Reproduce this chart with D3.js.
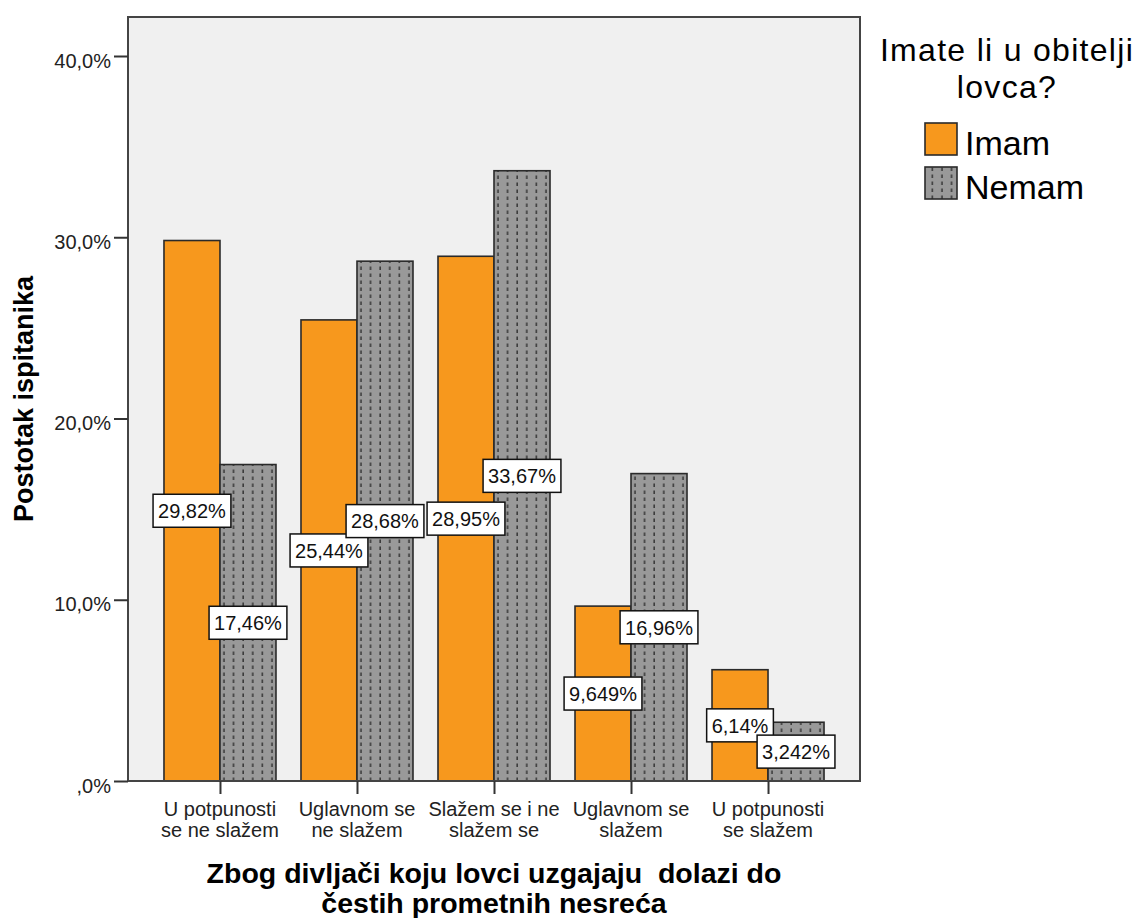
<!DOCTYPE html>
<html>
<head>
<meta charset="utf-8">
<script src="https://cdn.jsdelivr.net/npm/d3@7"></script>
<style>
  html, body { margin: 0; padding: 0; background: #ffffff; }
  svg { display: block; font-family: "Liberation Sans", Arial, sans-serif; }
</style>
</head>
<body>
<svg id="chart" width="1136" height="918"></svg>
<script>
// ---- data ----
const categories = [
  ["U potpunosti", "se ne slažem"],
  ["Uglavnom se", "ne slažem"],
  ["Slažem se i ne", "slažem se"],
  ["Uglavnom se", "slažem"],
  ["U potpunosti", "se slažem"]
];
const seriesNames = ["Imam", "Nemam"];
const imamValues  = [29.82, 25.44, 28.95, 9.649, 6.14];
const nemamValues = [17.46, 28.68, 33.67, 16.96, 3.242];
const yTickValues = [0, 10, 20, 30, 40];
const yTickLabels = [",0%", "10,0%", "20,0%", "30,0%", "40,0%"];
const yTitle = "Postotak ispitanika";
const xTitleLines = ["Zbog divljači koju lovci uzgajaju  dolazi do", "čestih prometnih nesreća"];
const legendTitleLines = ["Imate li u obitelji", "lovca?"];

// ---- layout ----
const svg = d3.select("#chart");
const plot = { left: 128, right: 860, top: 17, bottom: 781 };
const ORANGE = "#f7981d";
const GREY = "#999999";

const catIdx = categories.map((d, i) => i);
const x0 = d3.scaleBand().domain(catIdx).range([plot.left, plot.right])
  .paddingInner(0.1825).paddingOuter(0.2626);
const x1 = d3.scaleBand().domain(seriesNames).range([0, x0.bandwidth()]);
const y = d3.scaleLinear().domain([0, 40]).range([plot.bottom, 56]);

const rows = [];
catIdx.forEach(i => {
  rows.push({ cat: i, s: "Imam", v: imamValues[i] });
  rows.push({ cat: i, s: "Nemam", v: nemamValues[i] });
});

const defs = svg.append("defs");
function makePattern(id, xOff) {
  const p = defs.append("pattern").attr("id", id)
    .attr("patternUnits", "userSpaceOnUse")
    .attr("x", xOff).attr("y", 0)
    .attr("width", 9.6).attr("height", 7);
  p.append("rect").attr("width", 9.6).attr("height", 7).attr("fill", GREY);
  p.append("line").attr("x1", 4).attr("x2", 4).attr("y1", 0.5).attr("y2", 4)
    .attr("stroke", "#3c3c3c").attr("stroke-width", 1.6);
}

// plot background
svg.append("rect")
  .attr("x", plot.left).attr("y", plot.top)
  .attr("width", plot.right - plot.left).attr("height", plot.bottom - plot.top)
  .attr("fill", "#f0f0f0");

// bars
const fmt = d3.format(".4~r");
const barG = svg.append("g");
rows.forEach((r, k) => {
  const bx = x0(r.cat) + x1(r.s);
  let fill = ORANGE;
  if (r.s === "Nemam") {
    makePattern("pat" + k, bx);
    fill = "url(#pat" + k + ")";
  }
  r.bx = bx;
  r.fill = fill;
});
barG.selectAll("rect").data(rows).join("rect")
  .attr("x", d => d.bx)
  .attr("y", d => y(d.v))
  .attr("width", x1.bandwidth())
  .attr("height", d => y(0) - y(d.v))
  .attr("fill", d => d.fill)
  .attr("stroke", "#2a2a2a")
  .attr("stroke-width", 1.6);

// frame
svg.append("rect")
  .attr("x", plot.left).attr("y", plot.top)
  .attr("width", plot.right - plot.left).attr("height", plot.bottom - plot.top)
  .attr("fill", "none").attr("stroke", "#444").attr("stroke-width", 2);

// y axis
const yAxis = d3.axisLeft(y).tickValues(yTickValues)
  .tickFormat((d, i) => yTickLabels[i]).tickSize(14).tickPadding(3);
const yg = svg.append("g").attr("transform", `translate(${plot.left},0)`).call(yAxis);
yg.select(".domain").remove();
yg.selectAll(".tick line").attr("stroke", "#333").attr("stroke-width", 2);
yg.selectAll(".tick text").attr("font-size", 20).attr("fill", "#222")
  .attr("font-family", "'Liberation Sans', Arial, sans-serif").attr("dy", "0.55em");

// x axis
const xAxis = d3.axisBottom(d3.scalePoint().domain(catIdx)
  .range([x0(0) + x0.bandwidth() / 2, x0(4) + x0.bandwidth() / 2]))
  .tickSize(13).tickFormat("");
const xg = svg.append("g").attr("transform", `translate(0,${plot.bottom})`).call(xAxis);
xg.select(".domain").remove();
xg.selectAll(".tick line").attr("stroke", "#333").attr("stroke-width", 2);
const xLab = svg.append("g").selectAll("text").data(categories).join("text")
  .attr("x", (d, i) => x0(i) + x0.bandwidth() / 2)
  .attr("y", 816)
  .attr("text-anchor", "middle")
  .attr("font-size", 20)
  .attr("fill", "#222");
xLab.each(function(d) {
  const t = d3.select(this);
  d.forEach((line, j) => {
    t.append("tspan").attr("x", t.attr("x")).attr("y", 816 + j * 21).text(line);
  });
});

// value labels
const lblG = svg.append("g");
rows.forEach(r => {
  const cx = r.bx + x1.bandwidth() / 2;
  const cy = (y(r.v) + y(0)) / 2;
  const g = lblG.append("g").attr("transform", `translate(${cx},${cy})`);
  const txt = fmt(r.v).replace(".", ",") + "%";
  const t = g.append("text").attr("text-anchor", "middle").attr("dy", "0.36em")
    .attr("font-size", 20).attr("fill", "#111").text(txt);
  const w = t.node().getComputedTextLength() + 10;
  g.insert("rect", "text").attr("x", -w / 2).attr("y", -16.5)
    .attr("width", w).attr("height", 33)
    .attr("fill", "#fff").attr("stroke", "#111").attr("stroke-width", 1.5);
});

// y title
svg.append("text")
  .attr("transform", "translate(33,399) rotate(-90)")
  .attr("text-anchor", "middle")
  .attr("font-size", 27).attr("font-weight", "bold").attr("fill", "#000")
  .text(yTitle);

// x title
svg.append("g").selectAll("text").data(xTitleLines).join("text")
  .attr("x", (plot.left + plot.right) / 2)
  .attr("y", (d, i) => 883 + i * 30)
  .attr("text-anchor", "middle")
  .attr("font-size", 28.5).attr("font-weight", "bold").attr("fill", "#000")
  .style("white-space", "pre")
  .text(d => d);

// legend
svg.append("g").selectAll("text").data(legendTitleLines).join("text")
  .attr("x", 1007)
  .attr("y", (d, i) => 61 + i * 37)
  .attr("text-anchor", "middle")
  .attr("font-size", 32).attr("letter-spacing", 1.3).attr("fill", "#000")
  .text(d => d);

makePattern("patLeg", 925);
const legendColors = [ORANGE, "url(#patLeg)"];
const leg = svg.append("g").selectAll("g").data(seriesNames).join("g")
  .attr("transform", (d, i) => `translate(925,${123 + i * 44})`);
leg.append("rect").attr("width", 32).attr("height", 32)
  .attr("fill", (d, i) => legendColors[i])
  .attr("stroke", "#2a2a2a").attr("stroke-width", 1.6);
leg.append("text").attr("x", 40).attr("y", 32)
  .attr("font-size", 34).attr("fill", "#000").text(d => d);
</script>
</body>
</html>
